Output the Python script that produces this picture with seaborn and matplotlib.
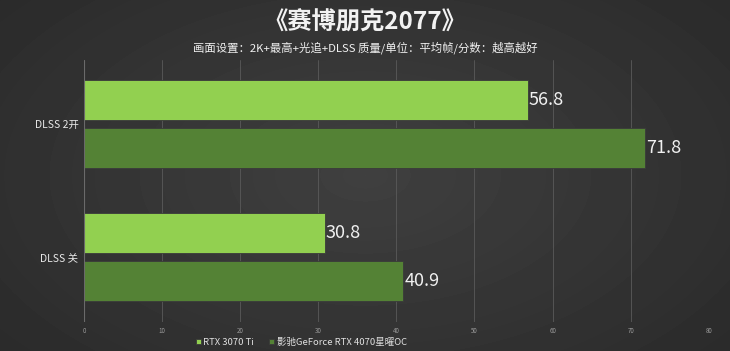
import numpy as np
import pandas as pd
import matplotlib
matplotlib.use("Agg")
import matplotlib.pyplot as plt
import seaborn as sns

categories = ["DLSS 2开", "DLSS 关"]
series = ["RTX 3070 Ti", "影驰GeForce RTX 4070星曜OC"]
rtx3070ti = [56.8, 30.8]
rtx4070 = [71.8, 40.9]
colors = ["#92d050", "#548235"]

df = pd.DataFrame({
    "setting": categories * 2,
    "card": [series[0]] * 2 + [series[1]] * 2,
    "fps": rtx3070ti + rtx4070,
})

sns.set_style("dark")
plt.rcParams['font.family'] = ['Noto Sans CJK SC', 'DejaVu Sans']

fig = plt.figure(figsize=(7.3, 3.51), dpi=100)

# background gradient
bg = fig.add_axes([0, 0, 1, 1], zorder=-10)
yy, xx = np.mgrid[0:351, 0:730]
r = np.sqrt(((xx - 365) / 520) ** 2 + ((yy - 175) / 300) ** 2)
bg.imshow(0.25 - 0.09 * r, cmap="gray", vmin=0, vmax=1, aspect="auto")
bg.axis("off")

ax = fig.add_axes([0.115, 0.083, 0.856, 0.746])
ax.set_facecolor("none")
sns.barplot(data=df, y="setting", x="fps", hue="card", palette=colors,
            saturation=1, width=0.72, gap=0.17, ax=ax,
            edgecolor="#3a3a3a", linewidth=0.6)

for cont in ax.containers:
    ax.bar_label(cont, fmt="%.1f", padding=1, color="#f0f0f0", fontsize=13)

ax.set_xlim(0, 80)
ax.set_ylim(1.49, -0.48)
ax.set_xticks(range(0, 81, 10))
ax.tick_params(axis="x", colors="#9a9a9a", labelsize=4.5, length=0, pad=4)
ax.tick_params(axis="y", colors="#e8e8e8", labelsize=7.5, length=0, pad=4)
ax.grid(axis="x", color="#5a5a5a", linewidth=0.6)
ax.grid(axis="y", visible=False)
ax.set_xlabel("")
ax.set_ylabel("")
for s in ax.spines.values():
    s.set_visible(False)
ax.axvline(0, color="#6a6a6a", linewidth=0.8)

leg = ax.legend(loc="center", bbox_to_anchor=(0.348, -0.078), ncol=2,
                frameon=False, fontsize=6.8, handlelength=0.5, handleheight=0.5,
                handletextpad=0.3, columnspacing=1.6, borderpad=0)
for t in leg.get_texts():
    t.set_color("#e0e0e0")

fig.text(0.5, 0.935, "《赛博朋克2077》", ha="center", va="center",
         fontsize=17.5, fontweight="bold", color="#f2f2f2")
fig.text(0.5, 0.865, "画面设置：2K+最高+光追+DLSS 质量/单位：平均帧/分数：越高越好",
         ha="center", va="center", fontsize=8.2, color="#f0f0f0")

fig.savefig("out.png", dpi=100)
